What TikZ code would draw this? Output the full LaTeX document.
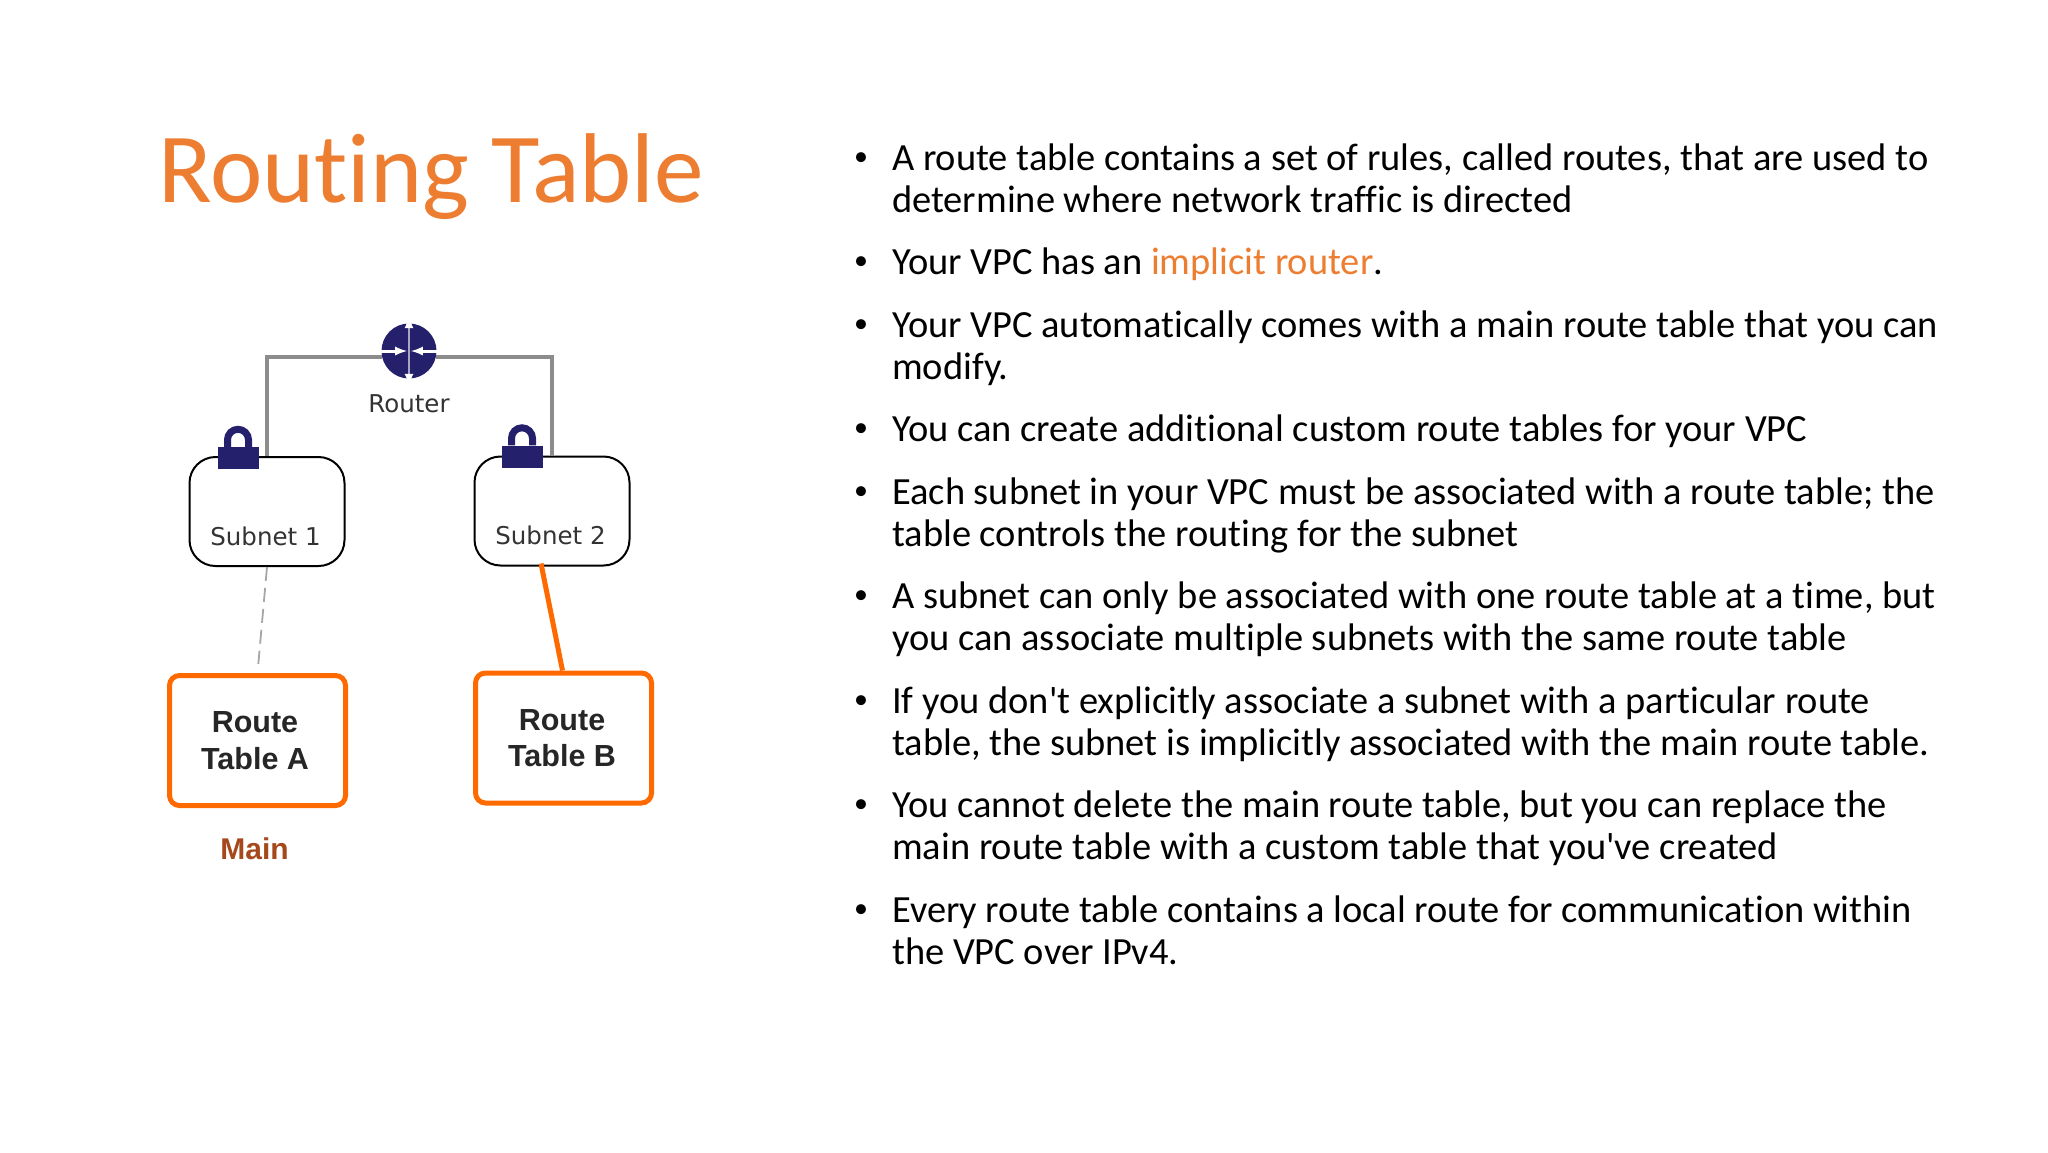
\documentclass[tikz,border=0pt]{standalone}
\usepackage{fontspec}
\setmainfont{Carlito}[Ligatures={TeXOff,NoCommon}]
\newfontfamily\dejavu{DejaVu Sans}
\newfontfamily\liberation{Liberation Sans}
\usetikzlibrary{arrows,calc,positioning}
\definecolor{titleorange}{HTML}{ED7D31}
\definecolor{boxorange}{HTML}{FF6A00}
\definecolor{routerblue}{HTML}{25206B}
\definecolor{mainbrown}{HTML}{A5491C}
\tikzstyle{bullet}=[inner sep=0pt,anchor=north west,align=left,font=\fontsize{38.45}{41.8}\selectfont]
\tikzstyle{dot}=[inner sep=0pt,font=\fontsize{28}{30}\selectfont]
\tikzstyle{subnet}=[draw=black,line width=2pt,rounded corners=26pt,minimum width=155pt,minimum height=109pt,inner sep=0pt]
\tikzstyle{rtable}=[draw=boxorange,line width=5pt,rounded corners=10pt,minimum width=176pt,minimum height=130pt,inner sep=0pt,align=center,font=\liberation\bfseries\fontsize{30.5}{36.5}\selectfont,text=black!85]
\tikzstyle{label}=[inner sep=0pt,text=black!80,font=\dejavu\fontsize{24.5}{28}\selectfont]
\tikzstyle{link}=[draw=black!45,line width=3.5pt]
\tikzstyle{lockbody}=[fill=routerblue,minimum width=41pt,minimum height=22pt,inner sep=0pt]
\begin{document}
\begin{tikzpicture}[x=1pt,y=-1pt]
      \useasboundingbox (0,0) rectangle (2048,1152);
      \node[inner sep=0pt,anchor=base west,text=titleorange,font=\fontsize{99.2}{104}\selectfont] (title) at (158,202) {Routing Table};

      % bullets
      \foreach \y/\id/\txt in {
        144/a/{A route table contains a set of rules, called routes, that are used to\\determine where network traffic is directed},
        248/b/{Your VPC has an \textcolor{titleorange}{implicit router}.},
        311/c/{Your VPC automatically comes with a main route table that you can\\modify.},
        415/d/{You can create additional custom route tables for your VPC},
        478/e/{Each subnet in your VPC must be associated with a route table; the\\table controls the routing for the subnet},
        582/f/{A subnet can only be associated with one route table at a time, but\\you can associate multiple subnets with the same route table},
        687/g/{If you don't explicitly associate a subnet with a particular route\\table, the subnet is implicitly associated with the main route table.},
        791/h/{You cannot delete the main route table, but you can replace the\\main route table with a custom table that you've created},
        896/i/{Every route table contains a local route for communication within\\the VPC over IPv4.}}{
        \node[bullet] (text\id) at (892,\y) {\txt};
        \node[dot] (dot\id) at (861,\y+15) {\textbullet};
      }

      % diagram
      \node[circle,fill=routerblue,minimum size=55pt,inner sep=0pt] (router) at (409,351) {};
      \node[label] (routerlabel) at (409,404) {Router};
      \node[subnet] (subnet1) at (267,511.5) {};
      \node[subnet] (subnet2) at (552,511) {};
      \node[label,anchor=base] (subnetlabel1) at (265.5,545) {Subnet 1};
      \node[label,anchor=base] (subnetlabel2) at (550.5,544) {Subnet 2};
      \node[rtable] (tableA) at (257.5,740.5) {\hspace*{-5pt}Route\\\hspace*{-5pt}Table A};
      \node[rtable] (tableB) at (563.5,738) {\hspace*{-3pt}Route\\\hspace*{-3pt}Table B};
      \node[inner sep=0pt,text=mainbrown,font=\liberation\bfseries\fontsize{30}{34}\selectfont] (main) at (254.5,849) {Main};

      \path[link] (router.193) -| (subnet1.north);
      \path[link] (router.-13) -| (subnet2.north);
      \draw[black!35,line width=1.8pt,dash pattern=on 14pt off 7pt,shorten >=9pt] (subnet1.south) -- (tableA.north);
      \draw[boxorange,line width=5pt] ($(subnet2.south)+(-11,-3)$) -- ($(tableB.north)+(-1,0)$);

      % router arrows
      \draw[routerblue!40,line width=2.5pt] (router.north) -- (router.south);
      \foreach \a/\b in {west/-2pt,east/2pt}{
        \draw[white,line width=3pt,-latex] (router.\a) -- ([xshift=\b]router.center);
      }
      \foreach \a/\b in {north/1pt,south/-1pt}{
        \draw[white,line width=3pt,-latex] (router.\a) -- ([yshift=\b*7]router.\a);
      }

      % locks
      \foreach \x/\y/\id in {238/458/1,522/456.5/2}{
        \node[lockbody] (lock\id) at (\x,\y) {};
        \draw[routerblue,line width=7pt] ([xshift=-10.5pt]lock\id.north) -- ++(0,-7) arc[start angle=180,end angle=0,radius=10.5pt] -- ([xshift=10.5pt]lock\id.north);
      }
    \end{tikzpicture}
\end{document}
